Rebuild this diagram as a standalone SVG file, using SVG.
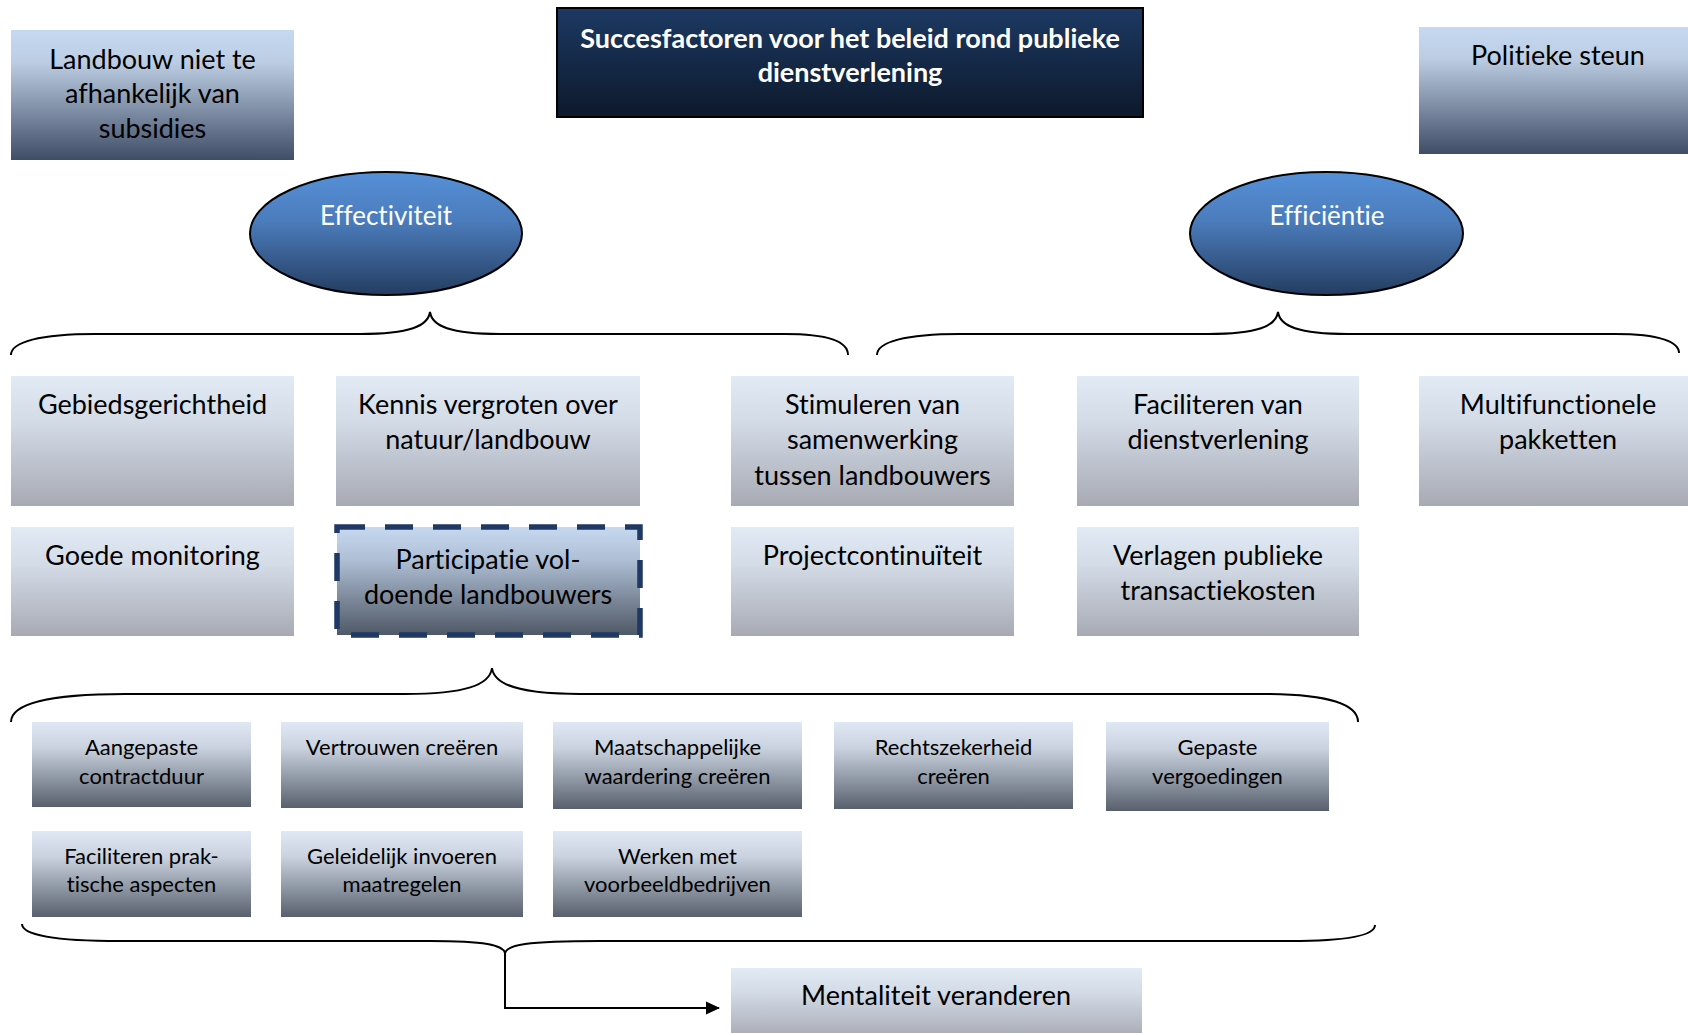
<svg xmlns="http://www.w3.org/2000/svg" width="1688" height="1033" viewBox="0 0 1688 1033">
<style>
text{font-variant-ligatures:none}
.t{font-family:Lato,"Liberation Sans",sans-serif;fill:#000;text-anchor:middle}
.big{font-size:27px}
.sm{font-size:22px}
.ttl{font-family:Lato,"Liberation Sans",sans-serif;font-weight:bold;font-size:27px;fill:#fff;text-anchor:middle}
.ell{font-family:Lato,"Liberation Sans",sans-serif;font-size:26px;fill:#fff;text-anchor:middle}
.br{fill:none;stroke:#000;stroke-width:2}
</style>
<defs>
<linearGradient id="gTitle" x1="0" y1="0" x2="0" y2="1"><stop offset="0" stop-color="#1c3963"/><stop offset="1" stop-color="#0d192b"/></linearGradient>
<linearGradient id="gEll" x1="0" y1="0" x2="0" y2="1"><stop offset="0" stop-color="#5690d8"/><stop offset="0.4" stop-color="#4b7cbc"/><stop offset="1" stop-color="#243d60"/></linearGradient>
<linearGradient id="gLight" x1="0" y1="0" x2="0" y2="1"><stop offset="0" stop-color="#c6d9f1"/><stop offset="0.25" stop-color="#bccde3"/><stop offset="1" stop-color="#3f4d66"/></linearGradient>
<linearGradient id="gPart" x1="0" y1="0" x2="0" y2="1"><stop offset="0" stop-color="#c6d9f1"/><stop offset="0.3" stop-color="#afbfd5"/><stop offset="1" stop-color="#4f5866"/></linearGradient>
<linearGradient id="gGrey" x1="0" y1="0" x2="0" y2="1"><stop offset="0" stop-color="#e1eaf5"/><stop offset="0.35" stop-color="#d3dbe7"/><stop offset="1" stop-color="#a7aab3"/></linearGradient>
<linearGradient id="gSmall" x1="0" y1="0" x2="0" y2="1"><stop offset="0" stop-color="#dfe8f4"/><stop offset="0.3" stop-color="#c9d2de"/><stop offset="1" stop-color="#58606e"/></linearGradient>
<marker id="arr" markerWidth="14" markerHeight="14" refX="13" refY="7" orient="auto" markerUnits="userSpaceOnUse"><path d="M0,0.5 L14,7 L0,13.5 Z" fill="#000"/></marker>
</defs>

<g id="title">
<rect x="557" y="8" width="586" height="109" fill="url(#gTitle)" stroke="#000" stroke-width="2"/>
<text class="ttl" x="850" y="48">Succesfactoren voor het beleid rond publieke</text>
<text class="ttl" x="850" y="82">dienstverlening</text>
</g>

<g id="landbouw">
<rect x="11" y="30" width="283" height="130" fill="url(#gLight)"/>
<text class="t big" x="152.5" y="68.5">Landbouw niet te</text>
<text class="t big" x="152.5" y="102.5">afhankelijk van</text>
<text class="t big" x="152.5" y="137.5">subsidies</text>
</g>

<g id="politieke">
<rect x="1419" y="27" width="269" height="127" fill="url(#gLight)"/>
<text class="t big" x="1558" y="64.5">Politieke steun</text>
</g>

<g id="effectiviteit">
<ellipse cx="386" cy="233.5" rx="136" ry="61.5" fill="url(#gEll)" stroke="#000" stroke-width="2"/>
<text class="ell" x="386" y="225">Effectiviteit</text>
</g>

<g id="efficientie">
<ellipse cx="1326.5" cy="233.5" rx="136.5" ry="61.5" fill="url(#gEll)" stroke="#000" stroke-width="2"/>
<text class="ell" x="1327" y="225">Efficiëntie</text>
</g>

<g id="gebied">
<rect x="11" y="376" width="283" height="130" fill="url(#gGrey)"/>
<text class="t big" x="152.5" y="413.5">Gebiedsgerichtheid</text>
</g>
<g id="kennis">
<rect x="336" y="376" width="304" height="130" fill="url(#gGrey)"/>
<text class="t big" x="488" y="413.5">Kennis vergroten over</text>
<text class="t big" x="488" y="448.5">natuur/landbouw</text>
</g>
<g id="stimuleren">
<rect x="731" y="376" width="283" height="130" fill="url(#gGrey)"/>
<text class="t big" x="872.5" y="413.5">Stimuleren van</text>
<text class="t big" x="872.5" y="448.5">samenwerking</text>
<text class="t big" x="872.5" y="484.5">tussen landbouwers</text>
</g>
<g id="faciliteren">
<rect x="1077" y="376" width="282" height="130" fill="url(#gGrey)"/>
<text class="t big" x="1218" y="413.5">Faciliteren van</text>
<text class="t big" x="1218" y="448.5">dienstverlening</text>
</g>
<g id="multi">
<rect x="1419" y="376" width="269" height="130" fill="url(#gGrey)"/>
<text class="t big" x="1558" y="413.5">Multifunctionele</text>
<text class="t big" x="1558" y="448.5">pakketten</text>
</g>

<g id="monitoring">
<rect x="11" y="527" width="283" height="109" fill="url(#gGrey)"/>
<text class="t big" x="152.5" y="564.5">Goede monitoring</text>
</g>
<g id="participatie">
<rect x="337" y="527" width="303" height="108" fill="url(#gPart)" stroke="#1f3864" stroke-width="5.5" stroke-dasharray="28,20"/>
<text class="t big" x="488" y="568.5">Participatie vol-</text>
<text class="t big" x="488" y="603.5">doende landbouwers</text>
</g>
<g id="project">
<rect x="731" y="527" width="283" height="109" fill="url(#gGrey)"/>
<text class="t big" x="872.5" y="564.5">Projectcontinuïteit</text>
</g>
<g id="verlagen">
<rect x="1077" y="527" width="282" height="109" fill="url(#gGrey)"/>
<text class="t big" x="1218" y="564.5">Verlagen publieke</text>
<text class="t big" x="1218" y="599.5">transactiekosten</text>
</g>

<g id="aangepaste">
<rect x="32" y="722" width="219" height="85" fill="url(#gSmall)"/>
<text class="t sm" x="141.5" y="755">Aangepaste</text>
<text class="t sm" x="141.5" y="784">contractduur</text>
</g>
<g id="vertrouwen">
<rect x="281" y="722" width="242" height="86" fill="url(#gSmall)"/>
<text class="t sm" x="402" y="755">Vertrouwen creëren</text>
</g>
<g id="maatschappelijke">
<rect x="553" y="722" width="249" height="87" fill="url(#gSmall)"/>
<text class="t sm" x="677.5" y="755">Maatschappelijke</text>
<text class="t sm" x="677.5" y="784">waardering creëren</text>
</g>
<g id="rechtszekerheid">
<rect x="834" y="722" width="239" height="87" fill="url(#gSmall)"/>
<text class="t sm" x="953.5" y="755">Rechtszekerheid</text>
<text class="t sm" x="953.5" y="784">creëren</text>
</g>
<g id="gepaste">
<rect x="1106" y="722" width="223" height="89" fill="url(#gSmall)"/>
<text class="t sm" x="1217.5" y="755">Gepaste</text>
<text class="t sm" x="1217.5" y="784">vergoedingen</text>
</g>
<g id="prak">
<rect x="32" y="831" width="219" height="86" fill="url(#gSmall)"/>
<text class="t sm" x="141.5" y="864">Faciliteren prak-</text>
<text class="t sm" x="141.5" y="892">tische aspecten</text>
</g>
<g id="geleidelijk">
<rect x="281" y="831" width="242" height="86" fill="url(#gSmall)"/>
<text class="t sm" x="402" y="864">Geleidelijk invoeren</text>
<text class="t sm" x="402" y="892">maatregelen</text>
</g>
<g id="werken">
<rect x="553" y="831" width="249" height="86" fill="url(#gSmall)"/>
<text class="t sm" x="677.5" y="864">Werken met</text>
<text class="t sm" x="677.5" y="892">voorbeeldbedrijven</text>
</g>

<g id="mentaliteit">
<rect x="731" y="968" width="411" height="70" fill="url(#gGrey)"/>
<text class="t big" x="936" y="1005">Mentaliteit veranderen</text>
</g>

<g id="connectors">
<path class="br" d="M11,355 C11,342 40,334 95,334 L360,334 C410,334 428,326 430,312 C432,326 450,334 500,334 L785,334 C830,334 848,342 848,355"/>
<path class="br" d="M877,355 C877,342 905,334 960,334 L1208,334 C1258,334 1276,326 1278,312 C1280,326 1298,334 1348,334 L1615,334 C1660,334 1679,342 1679,353"/>
<path class="br" d="M11,722 C11,705 45,694 125,694 L405,694 C465,694 490,685 492,668 C494,685 520,694 580,694 L1262,694 C1330,694 1358,705 1358,722"/>
<path class="br" d="M22,924 C22,935 55,941 120,941 L430,941 C485,941 503,945 505,953 C507,945 525,941 600,941 L1290,941 C1350,941 1375,935 1375,925"/>
<path class="br" d="M505,953 L505,1008 L719,1008" marker-end="url(#arr)"/>
</g>
</svg>
